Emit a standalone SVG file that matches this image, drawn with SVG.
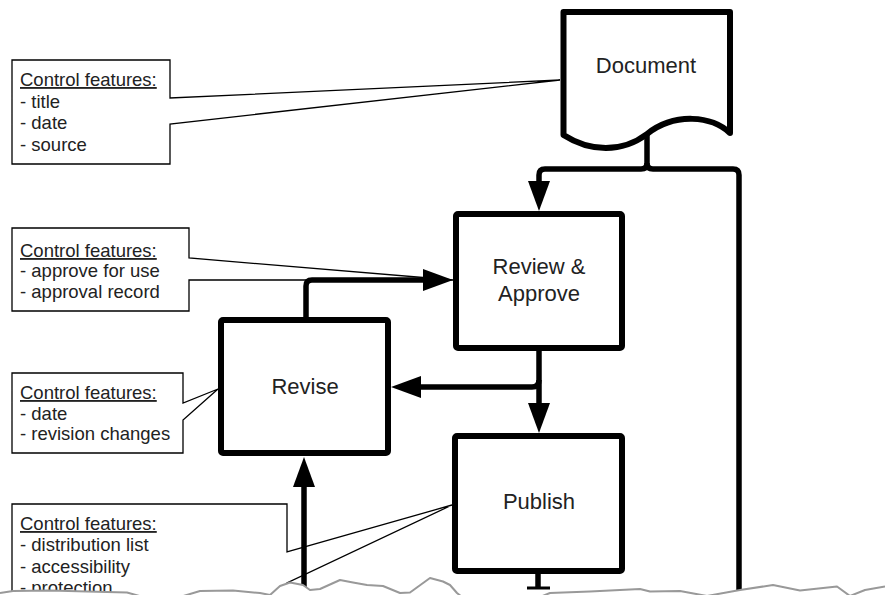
<svg xmlns="http://www.w3.org/2000/svg" width="885" height="595" viewBox="0 0 885 595">
<defs>
<style>
.node{fill:#fff;stroke:#000;stroke-width:6;stroke-linejoin:round}
.lbl{font-family:"Liberation Sans",Arial,sans-serif;font-size:22px;fill:#222;text-anchor:middle}
.co{fill:#fff;stroke:#000;stroke-width:1.3;stroke-linejoin:miter}
.ct{font-family:"Liberation Sans",Arial,sans-serif;font-size:18.5px;fill:#222}
.ul{text-decoration:underline}
.cn{fill:none;stroke:#000;stroke-width:5.5;stroke-linejoin:round}
.arr{fill:none;stroke:#000;stroke-width:5.5;marker-end:url(#ah)}
</style>
<marker id="ah" markerUnits="userSpaceOnUse" markerWidth="30" markerHeight="22" refX="0" refY="11" orient="auto" overflow="visible">
<path d="M0,0 L30,11 L0,22 Z" fill="#000"/>
</marker>
</defs>
<rect width="885" height="595" fill="#fff"/>

<g id="callout-document">
<path class="co" d="M12,60 H170 V98 L560,80 L170,124 V164 H12 Z"/>
<text class="ct" x="20" y="86"><tspan class="ul">Control features:</tspan></text>
<text class="ct" x="20" y="107.5">- title</text>
<text class="ct" x="20" y="129">- date</text>
<text class="ct" x="20" y="150.5">- source</text>
</g>
<g id="callout-review">
<path class="co" d="M12,228 H189 V258 L453,280 L189,280 V311 H12 Z"/>
<text class="ct" x="20" y="257"><tspan class="ul">Control features:</tspan></text>
<text class="ct" x="20" y="277">- approve for use</text>
<text class="ct" x="20" y="298">- approval record</text>
</g>
<g id="callout-revise">
<path class="co" d="M12,373 H183 V403 L218,389 L183,420 V453 H12 Z"/>
<text class="ct" x="20" y="399"><tspan class="ul">Control features:</tspan></text>
<text class="ct" x="20" y="419.5">- date</text>
<text class="ct" x="20" y="440">- revision changes</text>
</g>
<g id="callout-publish">
<path class="co" d="M12,504 H287 V552 L452,505 L287,583 V610 H12 Z"/>
<text class="ct" x="20" y="530"><tspan class="ul">Control features:</tspan></text>
<text class="ct" x="20" y="551">- distribution list</text>
<text class="ct" x="20" y="572.5">- accessibility</text>
<text class="ct" x="20" y="594">- protection</text>
</g>

<g id="connectors">
<path class="arr" d="M647,134 V163 Q647,169 641,169 H545 Q539,169 539,175 V181"/>
<path class="cn" d="M647,163 Q647,169 653,169 H733 Q739,169 739,175 V610"/>
<path class="arr" d="M306,320 V286 Q306,280 312,280 H423"/>
<path class="arr" d="M539,351 V403"/>
<path class="arr" d="M539,380 Q539,387 532,387 H421"/>
<path class="arr" d="M304,610 V487"/>
<path class="cn" d="M538,573 V588"/>
<path fill="none" stroke="#000" stroke-width="3" d="M527,588 H550"/>
</g>

<g id="node-document">
<path class="node" d="M563.5,12 H730 V133 C712,116 675,112 647,134 C622,153 590,152 563.5,135 Z"/>
<text class="lbl" x="646" y="73">Document</text>
</g>
<g id="node-review">
<rect class="node" x="456" y="214" width="166" height="134" rx="2"/>
<text class="lbl" x="539" y="274">Review &amp;</text>
<text class="lbl" x="539" y="300.5">Approve</text>
</g>
<g id="node-revise">
<rect class="node" x="221" y="320" width="167" height="133" rx="2"/>
<text class="lbl" x="305" y="394">Revise</text>
</g>
<g id="node-publish">
<rect class="node" x="455" y="436" width="167" height="135" rx="2"/>
<text class="lbl" x="539" y="509">Publish</text>
</g>

<g id="tear">
<path fill="#fff" stroke="none" d="M0,593 L13,591 L50,590.5 L87,591.5 L127,592.5 L143,597 L180,597 L200,591 L233,590.5 L260,593 L270,595 L280,586 L290,582.5 L303,585 L310,590 L320,589 L340,580 L353,582.5 L367,585 L383,586 L400,593 L410,592.5 L430,578 L443,581.5 L450,585 L457,593 L462,597 L540,597 L550,593 L590,591.5 L640,589 L650,591.5 L680,591 L707,596 L740,590 L773,585 L800,590.5 L837,586.5 L850,596 L865,590 L885,586.5 L885,600 L0,600 Z"/>
<path fill="none" stroke="#999" stroke-width="2" stroke-linejoin="round" d="M0,593 L13,591 L50,590.5 L87,591.5 L127,592.5 L143,597 M180,597 L200,591 L233,590.5 L260,593 L270,595 L280,586 L290,582.5 L303,585 L310,590 L320,589 L340,580 L353,582.5 L367,585 L383,586 L400,593 L410,592.5 L430,578 L443,581.5 L450,585 L457,593 L462,597 M540,597 L550,593 L590,591.5 L640,589 L650,591.5 L680,591 L707,596 L740,590 L773,585 L800,590.5 L837,586.5 L850,596 L865,590 L885,586.5"/>
</g>
</svg>
